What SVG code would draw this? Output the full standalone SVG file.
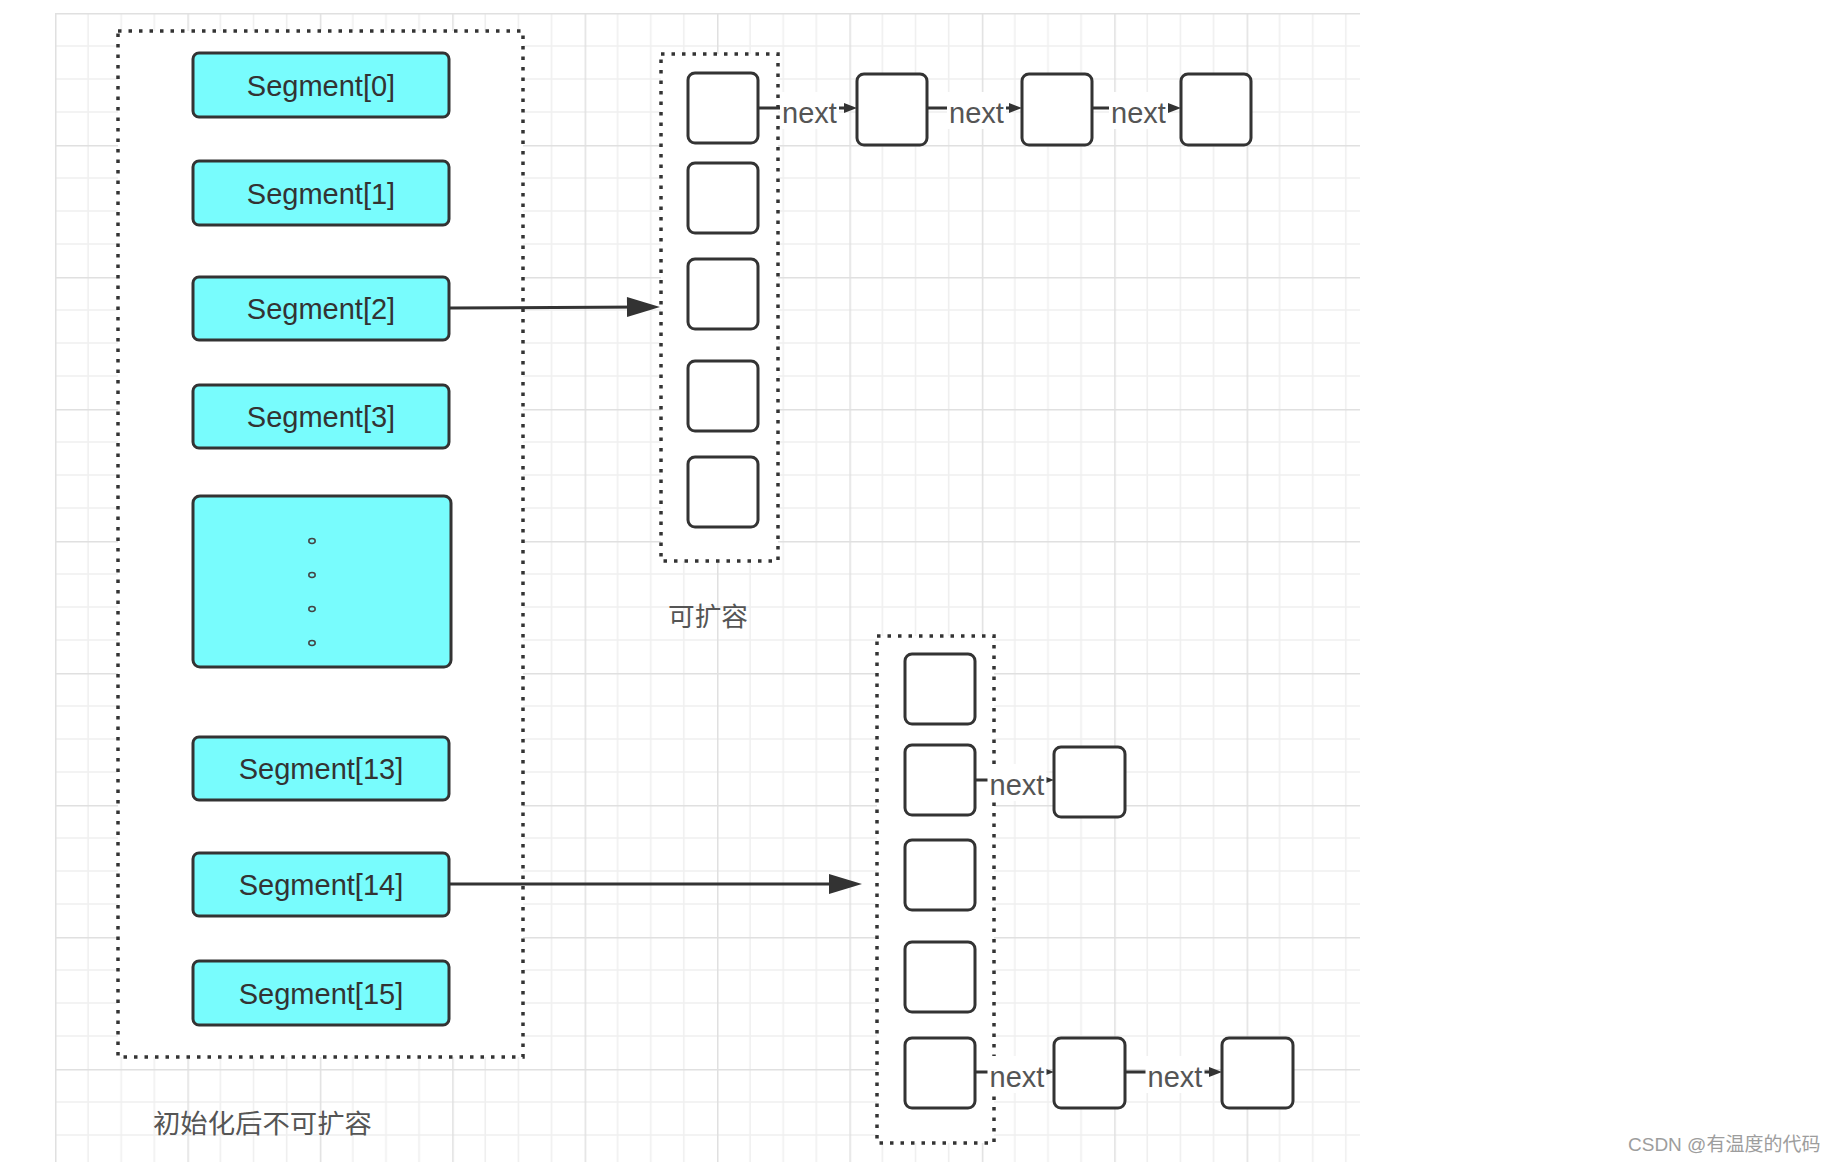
<svg xmlns="http://www.w3.org/2000/svg" width="1834" height="1162" viewBox="0 0 1834 1162">
<defs>
<style>
.seg{fill:#78fcfd;stroke:#333;stroke-width:3}
.cell{fill:#fff;stroke:#333;stroke-width:3}
.cont{fill:#fff;stroke:#333;stroke-width:3.5;stroke-dasharray:3.5 7}
.segt{font-family:"Liberation Sans",Arial,sans-serif;font-size:29px;fill:#333;text-anchor:middle}
.nt{font-family:"Liberation Sans",Arial,sans-serif;font-size:29px;fill:#555;text-anchor:middle}
.lb{fill:#fff}
.edge{stroke:#333;stroke-width:3;fill:none}
.big{marker-end:url(#bigHead)}
.small{marker-end:url(#smallHead)}
.cjk{font-family:"Liberation Sans","Noto Sans CJK SC",sans-serif;font-size:26px;fill:#555}
.dot{fill:none;stroke:#444;stroke-width:1.5}
</style>
<pattern id="grid" patternUnits="userSpaceOnUse" x="55" y="13" width="132.4" height="132">
<rect width="132.4" height="132" fill="#fff"/>
<path d="M33.1 0V132M66.2 0V132M99.3 0V132M0 33H132.4M0 66H132.4M0 99H132.4" stroke="#efefef" stroke-width="1.5"/>
<path d="M0.75 0V132M0 0.75H132.4" stroke="#e0e0e0" stroke-width="1.5"/>
</pattern>
<marker id="bigHead" markerUnits="userSpaceOnUse" markerWidth="34" markerHeight="22" refX="18" refY="10" orient="auto" overflow="visible">
<path d="M0 0L33 10L0 20Z" fill="#333"/>
</marker>
<marker id="smallHead" markerUnits="userSpaceOnUse" markerWidth="14" markerHeight="11" refX="7" refY="5" orient="auto" overflow="visible">
<path d="M0 0L13 5L0 10Z" fill="#333"/>
</marker>
</defs>

<rect id="background" width="1834" height="1162" fill="#fff"/>
<rect id="gridArea" x="55" y="13" width="1305" height="1149" fill="url(#grid)"/>

<g id="fixedContainer">
<rect class="cont" x="118" y="31" width="405" height="1026"/>
</g>

<g id="seg0"><rect class="seg" x="193" y="53" width="256" height="64" rx="6"/><text class="segt" x="321" y="96">Segment[0]</text></g>
<g id="seg1"><rect class="seg" x="193" y="161" width="256" height="64" rx="6"/><text class="segt" x="321" y="204">Segment[1]</text></g>
<g id="seg2"><rect class="seg" x="193" y="277" width="256" height="63" rx="6"/><text class="segt" x="321" y="319">Segment[2]</text></g>
<g id="seg3"><rect class="seg" x="193" y="385" width="256" height="63" rx="6"/><text class="segt" x="321" y="427">Segment[3]</text></g>
<g id="segDots"><rect class="seg" x="193" y="496" width="258" height="171" rx="7"/>
<ellipse class="dot" cx="312" cy="541" rx="3.2" ry="2.4"/>
<ellipse class="dot" cx="312" cy="575" rx="3.2" ry="2.4"/>
<ellipse class="dot" cx="312" cy="609" rx="3.2" ry="2.4"/>
<ellipse class="dot" cx="312" cy="643" rx="3.2" ry="2.4"/></g>
<g id="seg13"><rect class="seg" x="193" y="737" width="256" height="63" rx="6"/><text class="segt" x="321" y="779">Segment[13]</text></g>
<g id="seg14"><rect class="seg" x="193" y="853" width="256" height="63" rx="6"/><text class="segt" x="321" y="895">Segment[14]</text></g>
<g id="seg15"><rect class="seg" x="193" y="961" width="256" height="64" rx="6"/><text class="segt" x="321" y="1004">Segment[15]</text></g>

<g id="label-fixed"><text class="cjk" x="153" y="1133" textLength="219" lengthAdjust="spacingAndGlyphs">初始化后不可扩容</text></g>

<g id="tableA">
<rect class="cont" x="661" y="54" width="117" height="507"/>
<rect class="cell" x="688" y="73" width="70" height="70" rx="7"/>
<rect class="cell" x="688" y="163" width="70" height="70" rx="7"/>
<rect class="cell" x="688" y="259" width="70" height="70" rx="7"/>
<rect class="cell" x="688" y="361" width="70" height="70" rx="7"/>
<rect class="cell" x="688" y="457" width="70" height="70" rx="7"/>
</g>
<g id="label-expandable"><text class="cjk" x="668" y="626" textLength="80" lengthAdjust="spacingAndGlyphs">可扩容</text></g>

<g id="nodeA1"><rect class="cell" x="857" y="74" width="70" height="71" rx="7"/></g>
<g id="nodeA2"><rect class="cell" x="1022" y="74" width="70" height="71" rx="7"/></g>
<g id="nodeA3"><rect class="cell" x="1181" y="74" width="70" height="71" rx="7"/></g>

<g id="tableB">
<rect class="cont" x="877" y="636" width="117" height="507"/>
<rect class="cell" x="905" y="654" width="70" height="70" rx="7"/>
<rect class="cell" x="905" y="745" width="70" height="70" rx="7"/>
<rect class="cell" x="905" y="840" width="70" height="70" rx="7"/>
<rect class="cell" x="905" y="942" width="70" height="70" rx="7"/>
<rect class="cell" x="905" y="1038" width="70" height="70" rx="7"/>
</g>

<g id="nodeB1"><rect class="cell" x="1054" y="747" width="71" height="70" rx="7"/></g>
<g id="nodeB2"><rect class="cell" x="1054" y="1038" width="71" height="70" rx="7"/></g>
<g id="nodeB3"><rect class="cell" x="1222" y="1038" width="71" height="70" rx="7"/></g>

<g id="connectors">
<path class="edge big" d="M450 308L645 307"/>
<path class="edge big" d="M450 884L847 884"/>

<path class="edge small" d="M758 108L851 108"/>
<rect class="lb" x="780" y="92" width="59" height="37"/>
<text class="nt" x="809.5" y="123">next</text>

<path class="edge small" d="M927 108L1016 108"/>
<rect class="lb" x="947" y="92" width="59" height="37"/>
<text class="nt" x="976.5" y="123">next</text>

<path class="edge small" d="M1092 108L1175 108"/>
<rect class="lb" x="1109" y="92" width="59" height="37"/>
<text class="nt" x="1138.5" y="123">next</text>

<path class="edge small" d="M975 780L1048 780"/>
<rect class="lb" x="987.5" y="764" width="59" height="37"/>
<text class="nt" x="1017" y="795">next</text>

<path class="edge small" d="M975 1072L1048 1072"/>
<rect class="lb" x="987.5" y="1056" width="59" height="37"/>
<text class="nt" x="1017" y="1087">next</text>

<path class="edge small" d="M1125 1072L1216 1072"/>
<rect class="lb" x="1145.5" y="1056" width="59" height="37"/>
<text class="nt" x="1175" y="1087">next</text>
</g>

<g id="watermark"><text x="1628" y="1151" font-family="Liberation Sans, Noto Sans CJK SC, sans-serif" font-size="19" fill="#9d9d9d">CSDN @有温度的代码</text></g>
</svg>
